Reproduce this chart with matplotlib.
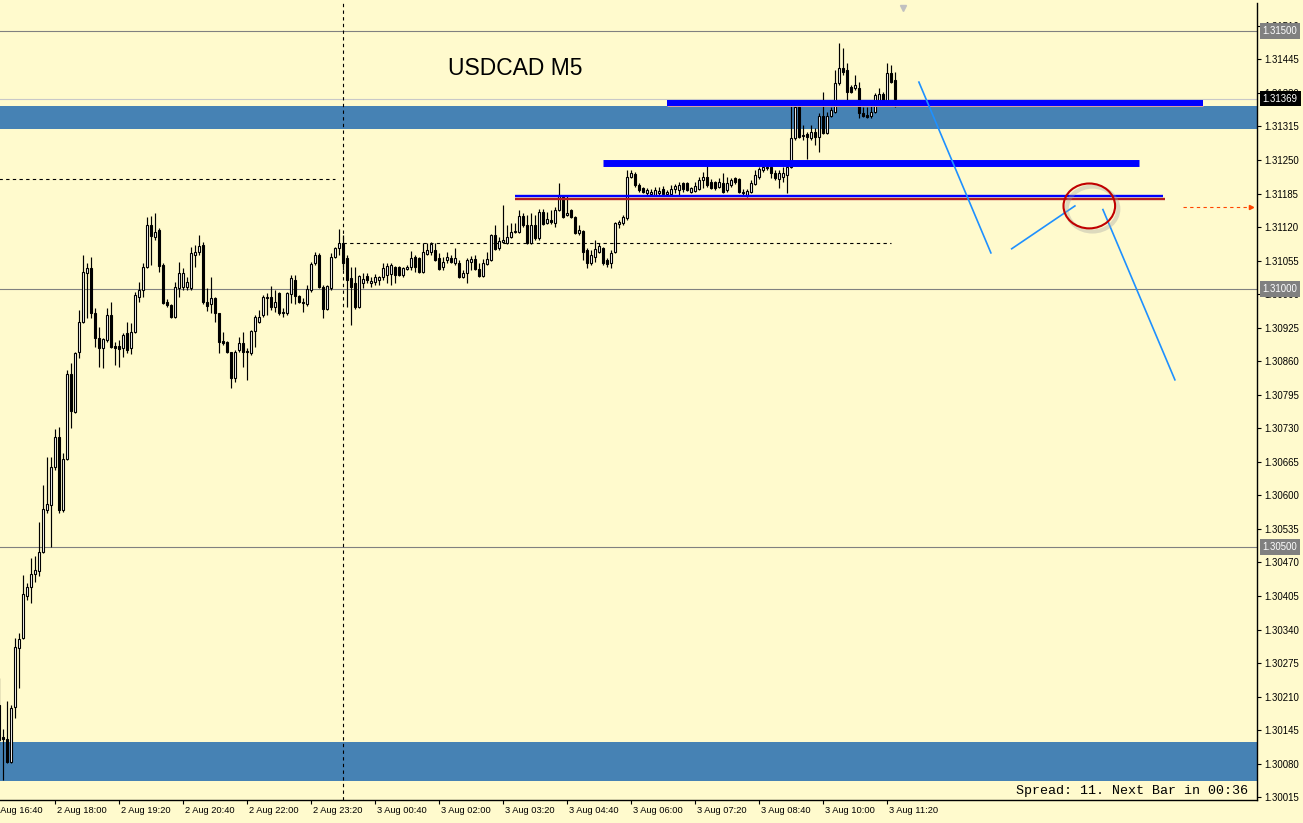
import numpy as np
import pandas as pd
import matplotlib
matplotlib.use("Agg")
import matplotlib.pyplot as plt
import matplotlib.transforms as mtransforms
from matplotlib.patches import Ellipse

# USDCAD M5 bars, 2 Aug 16:50 -> 3 Aug 11:30
times = pd.date_range("2018-08-02 16:50", periods=225, freq="5min")

opens = [
    1.30194, 1.30132, 1.30128, 1.30083, 1.30190, 1.30304, 1.30324, 1.30405, 1.30422, 1.30448,
    1.30453, 1.30490, 1.30572, 1.30581, 1.30655, 1.30713, 1.30572, 1.30671, 1.30835, 1.30762,
    1.30878, 1.30936, 1.31031, 1.31041, 1.30953, 1.30905, 1.30886, 1.30901, 1.30950, 1.30890,
    1.30890, 1.30886, 1.30915, 1.30886, 1.30917, 1.30984, 1.30998, 1.31043, 1.31124, 1.31101,
    1.31114, 1.31047, 1.30975, 1.30969, 1.30946, 1.31002, 1.31004, 1.31004, 1.31002, 1.31066,
    1.31072, 1.31085, 1.30975, 1.30971, 1.30983, 1.30953, 1.30899, 1.30897, 1.30878, 1.30828,
    1.30882, 1.30895, 1.30880, 1.30876, 1.30919, 1.30936, 1.30950, 1.30983, 1.30984, 1.30965,
    1.30992, 1.30955, 1.30953, 1.30990, 1.31017, 1.30986, 1.30975, 1.30971, 1.30998, 1.31050,
    1.31066, 1.31004, 1.30961, 1.31002, 1.31062, 1.31079, 1.31089, 1.31060, 1.31021, 1.31012,
    1.30965, 1.31012, 1.31025, 1.31012, 1.31014, 1.31017, 1.31023, 1.31027, 1.31029, 1.31043,
    1.31043, 1.31027, 1.31039, 1.31043, 1.31062, 1.31060, 1.31033, 1.31068, 1.31072, 1.31076,
    1.31060, 1.31043, 1.31056, 1.31060, 1.31050, 1.31050, 1.31023, 1.31031, 1.31052, 1.31058,
    1.31039, 1.31025, 1.31048, 1.31056, 1.31105, 1.31079, 1.31091, 1.31089, 1.31101, 1.31110,
    1.31110, 1.31141, 1.31124, 1.31089, 1.31124, 1.31099, 1.31149, 1.31128, 1.31134, 1.31128,
    1.31153, 1.31178, 1.31143, 1.31153, 1.31140, 1.31109, 1.31112, 1.31076, 1.31050, 1.31062,
    1.31072, 1.31079, 1.31056, 1.31050, 1.31072, 1.31126, 1.31128, 1.31138, 1.31217, 1.31223,
    1.31202, 1.31196, 1.31186, 1.31184, 1.31182, 1.31186, 1.31194, 1.31184, 1.31184, 1.31194,
    1.31192, 1.31205, 1.31205, 1.31188, 1.31190, 1.31194, 1.31211, 1.31217, 1.31207, 1.31207,
    1.31198, 1.31205, 1.31192, 1.31202, 1.31215, 1.31213, 1.31186, 1.31182, 1.31188, 1.31203,
    1.31217, 1.31231, 1.31234, 1.31236, 1.31225, 1.31213, 1.31217, 1.31221, 1.31236, 1.31293,
    1.31353, 1.31298, 1.31300, 1.31293, 1.31304, 1.31295, 1.31335, 1.31302, 1.31335, 1.31343,
    1.31399, 1.31428, 1.31424, 1.31392, 1.31390, 1.31390, 1.31341, 1.31337, 1.31335, 1.31343,
    1.31366, 1.31378, 1.31360, 1.31419, 1.31405,
]
highs = [
    1.30246, 1.30147, 1.30202, 1.30194, 1.30324, 1.30333, 1.30446, 1.30430, 1.30479, 1.30483,
    1.30548, 1.30620, 1.30674, 1.30674, 1.30729, 1.30733, 1.30682, 1.30843, 1.30857, 1.30878,
    1.30959, 1.31066, 1.31050, 1.31062, 1.30963, 1.30926, 1.30905, 1.30963, 1.30975, 1.30897,
    1.30901, 1.30915, 1.30936, 1.30934, 1.30994, 1.31014, 1.31050, 1.31140, 1.31141, 1.31147,
    1.31118, 1.31050, 1.30981, 1.30971, 1.31014, 1.31052, 1.31041, 1.31023, 1.31081, 1.31085,
    1.31105, 1.31091, 1.31002, 1.31023, 1.30984, 1.30953, 1.30917, 1.30899, 1.30878, 1.30882,
    1.30907, 1.30917, 1.30886, 1.30921, 1.30950, 1.30959, 1.30988, 1.30992, 1.31006, 1.30998,
    1.30994, 1.30963, 1.30994, 1.31027, 1.31027, 1.30988, 1.30983, 1.31008, 1.31052, 1.31072,
    1.31070, 1.31008, 1.31008, 1.31070, 1.31081, 1.31116, 1.31105, 1.31066, 1.31043, 1.31043,
    1.31027, 1.31031, 1.31031, 1.31023, 1.31029, 1.31025, 1.31050, 1.31050, 1.31050, 1.31045,
    1.31045, 1.31043, 1.31047, 1.31074, 1.31066, 1.31062, 1.31089, 1.31089, 1.31091, 1.31089,
    1.31070, 1.31062, 1.31072, 1.31066, 1.31079, 1.31056, 1.31037, 1.31060, 1.31064, 1.31066,
    1.31050, 1.31058, 1.31072, 1.31107, 1.31124, 1.31101, 1.31163, 1.31124, 1.31128, 1.31128,
    1.31153, 1.31147, 1.31143, 1.31147, 1.31143, 1.31155, 1.31155, 1.31149, 1.31153, 1.31159,
    1.31205, 1.31182, 1.31182, 1.31155, 1.31141, 1.31124, 1.31114, 1.31079, 1.31076, 1.31095,
    1.31089, 1.31081, 1.31060, 1.31076, 1.31130, 1.31134, 1.31143, 1.31231, 1.31231, 1.31227,
    1.31205, 1.31198, 1.31196, 1.31194, 1.31198, 1.31198, 1.31200, 1.31192, 1.31202, 1.31203,
    1.31207, 1.31207, 1.31207, 1.31198, 1.31207, 1.31217, 1.31227, 1.31244, 1.31213, 1.31209,
    1.31215, 1.31225, 1.31217, 1.31215, 1.31217, 1.31215, 1.31194, 1.31194, 1.31211, 1.31231,
    1.31236, 1.31240, 1.31240, 1.31240, 1.31231, 1.31231, 1.31236, 1.31240, 1.31360, 1.31362,
    1.31362, 1.31318, 1.31304, 1.31318, 1.31312, 1.31341, 1.31382, 1.31343, 1.31353, 1.31424,
    1.31477, 1.31467, 1.31438, 1.31395, 1.31415, 1.31401, 1.31353, 1.31353, 1.31362, 1.31380,
    1.31390, 1.31382, 1.31438, 1.31434, 1.31421,
]
lows = [
    1.30116, 1.30048, 1.30081, 1.30081, 1.30169, 1.30227, 1.30322, 1.30397, 1.30391, 1.30432,
    1.30444, 1.30488, 1.30566, 1.30500, 1.30649, 1.30566, 1.30568, 1.30669, 1.30731, 1.30760,
    1.30866, 1.30934, 1.30944, 1.30944, 1.30888, 1.30849, 1.30847, 1.30897, 1.30886, 1.30853,
    1.30849, 1.30868, 1.30876, 1.30874, 1.30915, 1.30975, 1.30984, 1.31041, 1.31047, 1.31095,
    1.31033, 1.30971, 1.30965, 1.30944, 1.30944, 1.30984, 1.30998, 1.30998, 1.30998, 1.31043,
    1.31066, 1.30971, 1.30957, 1.30953, 1.30936, 1.30876, 1.30891, 1.30876, 1.30808, 1.30820,
    1.30878, 1.30849, 1.30824, 1.30872, 1.30888, 1.30934, 1.30946, 1.30950, 1.30959, 1.30955,
    1.30950, 1.30946, 1.30950, 1.30973, 1.30971, 1.30973, 1.30955, 1.30967, 1.30994, 1.31047,
    1.31002, 1.30944, 1.30959, 1.30998, 1.31060, 1.31066, 1.31037, 1.30965, 1.30930, 1.30961,
    1.30963, 1.31002, 1.31012, 1.31004, 1.31008, 1.31008, 1.31017, 1.31012, 1.31008, 1.31012,
    1.31025, 1.31023, 1.31037, 1.31037, 1.31033, 1.31031, 1.31031, 1.31066, 1.31066, 1.31054,
    1.31037, 1.31037, 1.31050, 1.31050, 1.31047, 1.31021, 1.31021, 1.31012, 1.31037, 1.31037,
    1.31023, 1.31023, 1.31047, 1.31054, 1.31076, 1.31076, 1.31089, 1.31087, 1.31099, 1.31109,
    1.31109, 1.31120, 1.31087, 1.31087, 1.31095, 1.31095, 1.31124, 1.31126, 1.31126, 1.31120,
    1.31151, 1.31138, 1.31141, 1.31138, 1.31107, 1.31105, 1.31056, 1.31041, 1.31047, 1.31052,
    1.31070, 1.31047, 1.31043, 1.31041, 1.31070, 1.31118, 1.31124, 1.31134, 1.31215, 1.31198,
    1.31188, 1.31186, 1.31182, 1.31180, 1.31180, 1.31182, 1.31182, 1.31180, 1.31182, 1.31186,
    1.31182, 1.31188, 1.31190, 1.31186, 1.31188, 1.31192, 1.31196, 1.31198, 1.31194, 1.31192,
    1.31196, 1.31186, 1.31188, 1.31198, 1.31203, 1.31186, 1.31182, 1.31178, 1.31186, 1.31202,
    1.31213, 1.31227, 1.31231, 1.31215, 1.31211, 1.31196, 1.31207, 1.31186, 1.31234, 1.31289,
    1.31293, 1.31289, 1.31252, 1.31289, 1.31279, 1.31265, 1.31300, 1.31300, 1.31333, 1.31341,
    1.31395, 1.31415, 1.31366, 1.31380, 1.31386, 1.31331, 1.31333, 1.31331, 1.31331, 1.31341,
    1.31362, 1.31359, 1.31357, 1.31399, 1.31353,
]
closes = [
    1.30126, 1.30128, 1.30083, 1.30188, 1.30306, 1.30322, 1.30409, 1.30422, 1.30448, 1.30455,
    1.30490, 1.30574, 1.30583, 1.30655, 1.30713, 1.30572, 1.30671, 1.30835, 1.30764, 1.30876,
    1.30936, 1.31033, 1.31041, 1.30953, 1.30905, 1.30886, 1.30903, 1.30950, 1.30888, 1.30886,
    1.30884, 1.30911, 1.30882, 1.30917, 1.30988, 1.30998, 1.31043, 1.31124, 1.31103, 1.31110,
    1.31045, 1.30973, 1.30969, 1.30946, 1.31004, 1.31031, 1.31031, 1.31014, 1.31070, 1.31072,
    1.31083, 1.30975, 1.30967, 1.30983, 1.30953, 1.30897, 1.30895, 1.30878, 1.30828, 1.30878,
    1.30895, 1.30878, 1.30878, 1.30919, 1.30946, 1.30946, 1.30984, 1.30984, 1.30965, 1.30975,
    1.30953, 1.30953, 1.30992, 1.31021, 1.30986, 1.30975, 1.30973, 1.31000, 1.31048, 1.31066,
    1.31004, 1.30961, 1.31006, 1.31062, 1.31079, 1.31089, 1.31050, 1.31017, 1.31004, 1.30965,
    1.31025, 1.31019, 1.31017, 1.31016, 1.31023, 1.31023, 1.31041, 1.31045, 1.31047, 1.31027,
    1.31027, 1.31041, 1.31043, 1.31060, 1.31043, 1.31033, 1.31072, 1.31076, 1.31087, 1.31056,
    1.31039, 1.31052, 1.31062, 1.31052, 1.31060, 1.31023, 1.31031, 1.31056, 1.31058, 1.31039,
    1.31025, 1.31050, 1.31058, 1.31105, 1.31078, 1.31093, 1.31095, 1.31101, 1.31110, 1.31112,
    1.31141, 1.31124, 1.31089, 1.31124, 1.31099, 1.31149, 1.31126, 1.31136, 1.31130, 1.31153,
    1.31182, 1.31140, 1.31147, 1.31140, 1.31109, 1.31114, 1.31072, 1.31050, 1.31066, 1.31078,
    1.31083, 1.31050, 1.31048, 1.31070, 1.31128, 1.31130, 1.31140, 1.31217, 1.31225, 1.31202,
    1.31192, 1.31188, 1.31192, 1.31188, 1.31192, 1.31190, 1.31184, 1.31188, 1.31194, 1.31200,
    1.31202, 1.31194, 1.31192, 1.31196, 1.31200, 1.31211, 1.31217, 1.31202, 1.31196, 1.31196,
    1.31207, 1.31188, 1.31205, 1.31211, 1.31207, 1.31188, 1.31188, 1.31190, 1.31205, 1.31221,
    1.31233, 1.31236, 1.31236, 1.31225, 1.31215, 1.31225, 1.31225, 1.31236, 1.31293, 1.31353,
    1.31295, 1.31296, 1.31295, 1.31304, 1.31295, 1.31335, 1.31302, 1.31335, 1.31347, 1.31399,
    1.31428, 1.31421, 1.31382, 1.31382, 1.31395, 1.31341, 1.31335, 1.31333, 1.31343, 1.31376,
    1.31378, 1.31360, 1.31419, 1.31401, 1.31369,
]

# time axis labels
tick_times = ["2018-08-02 16:40", "2018-08-02 18:00", "2018-08-02 19:20", "2018-08-02 20:40",
              "2018-08-02 22:00", "2018-08-02 23:20", "2018-08-03 00:40", "2018-08-03 02:00",
              "2018-08-03 03:20", "2018-08-03 04:40", "2018-08-03 06:00", "2018-08-03 07:20",
              "2018-08-03 08:40", "2018-08-03 10:00", "2018-08-03 11:20"]
tick_labels = ["2 Aug 16:40", "2 Aug 18:00", "2 Aug 19:20", "2 Aug 20:40", "2 Aug 22:00",
               "2 Aug 23:20", "3 Aug 00:40", "3 Aug 02:00", "3 Aug 03:20", "3 Aug 04:40",
               "3 Aug 06:00", "3 Aug 07:20", "3 Aug 08:40", "3 Aug 10:00", "3 Aug 11:20"]

# price scale labels
price_ticks = [1.31510, 1.31445, 1.31380, 1.31315, 1.31250, 1.31185, 1.31120, 1.31055,
               1.30990, 1.30925, 1.30860, 1.30795, 1.30730, 1.30665, 1.30600, 1.30535,
               1.30470, 1.30405, 1.30340, 1.30275, 1.30210, 1.30145, 1.30080, 1.30015]
round_levels = [1.31500, 1.31000, 1.30500]
bid = 1.31369

# drawn objects (bar index, price)
zones = [(1.31310, 1.31355), (1.30047, 1.30122)]
thick_lines = [(167, 301, 1.31360, 4.3), (151, 285, 1.31245, 5.0), (129, 291, 1.31180, 1.7)]
red_line = (129, 291.3, 1.31175)
dashed_levels = [(-5, 84, 1.31213), (86, 223, 1.31089)]
trend_lines = [((229.9, 1.31401), (247.9, 1.31070)),
               ((253.1, 1.31078), (268.9, 1.31161)),
               ((275.9, 1.31154), (293.9, 1.30824))]
circle = (272.5, 1.31161, 12.9, 0.00087)

bg = "#FFFACD"
fig = plt.figure(figsize=(13.03, 8.23), dpi=100, facecolor=bg)
ax = fig.add_axes([0, 23 / 823, 1257 / 1303, 797 / 823])
ax.set_facecolor(bg)

x = np.arange(len(times))
o = np.array(opens)
h = np.array(highs)
l = np.array(lows)
c = np.array(closes)
up = c >= o

# background zones and level lines
for lo, hi in zones:
    ax.axhspan(lo, hi, color="#4682B4", lw=0, zorder=0.5)
for lv in round_levels:
    ax.axhline(lv, color="#808080", lw=0.8, zorder=1)
ax.axhline(bid, color="#C8C8C8", lw=0.8, zorder=1)

for x0, x1, lv in dashed_levels:
    ax.hlines(lv, x0, x1, colors="black", linestyles=(0, (3, 3)), lw=0.8, zorder=1.2)
day_start = (pd.Timestamp("2018-08-03 00:00") - times[0]) / pd.Timedelta("5min")
ax.axvline(day_start, color="black", ls=(0, (3, 3)), lw=0.8, zorder=1.2)

# candles
ax.vlines(x, l, h, color="black", lw=0.85, zorder=2)
ax.bar(x[up], c[up] - o[up], bottom=o[up], width=0.55, color="white",
       edgecolor="black", lw=0.8, zorder=2.5)
ax.bar(x[~up], c[~up] - o[~up], bottom=o[~up], width=0.55, color="black",
       edgecolor="black", lw=0.8, zorder=2.5)

# horizontal lines
for x0, x1, lv, w in thick_lines:
    ax.hlines(lv, x0, x1, colors="#0000FF", lw=w, zorder=3, capstyle="butt")
ax.hlines(red_line[2], red_line[0], red_line[1], colors="#B41E1E", lw=1.7, zorder=2.9,
          capstyle="butt")
ax.hlines(1.31355, 167, 301, colors="#E0A0A0", lw=0.7, zorder=2.8)

# trend lines
for (xa, ya), (xb, yb) in trend_lines:
    ax.plot([xa, xb], [ya, yb], color="#1E90FF", lw=1.2, zorder=3)

cx, cy, cw, chh = circle
ax.add_patch(Ellipse((cx + 0.8, cy - 0.00006), cw, chh, fill=False, ec="#A0A0A0",
                     lw=3, alpha=0.35, zorder=3.4))
ax.add_patch(Ellipse((cx, cy), cw, chh, fill=False, ec="#C00000", lw=1.5, zorder=3.5))

# orange price arrow
ax.hlines(1.31159, 295.9, 312.8, colors="#FF4500", linestyles=(0, (3, 3)), lw=0.8, zorder=3)
ax.plot([313.0], [1.31159], marker=">", color="#FF4500", ms=3, zorder=3, clip_on=False)

ax.set_xlim(0.175, 314.425)
ax.set_ylim(1.300097, 1.315543)

for side in ["top", "left"]:
    ax.spines[side].set_visible(False)
for side in ["right", "bottom"]:
    ax.spines[side].set_color("black")
    ax.spines[side].set_linewidth(1)

# price axis
ax.yaxis.tick_right()
ax.set_yticks(price_ticks)
ax.set_yticklabels([f"{v:.5f}" for v in price_ticks], fontfamily="Liberation Sans")
ax.tick_params(axis="y", labelsize=6.9, length=3, width=0.8, pad=2.5, colors="black")

ytrans = ax.get_yaxis_transform()
for lv in round_levels:
    ax.text(1.0045, lv, f"{lv:.5f}", transform=ytrans, ha="left", va="center",
            fontsize=6.9, fontfamily="Liberation Sans", color="white", clip_on=False,
            zorder=10, bbox=dict(boxstyle="square,pad=0.3", fc="#808080", ec="none"))
ax.text(1.0045, bid, f"{bid:.5f}", transform=ytrans, ha="left", va="center",
        fontsize=6.9, fontfamily="Liberation Sans", color="white", clip_on=False,
        zorder=10, bbox=dict(boxstyle="square,pad=0.3", fc="black", ec="none"))

# time axis
tick_pos = [(pd.Timestamp(t) - times[0]) / pd.Timedelta("5min") for t in tick_times]
ax.set_xticks([p for p in tick_pos if p > 0.175])
ax.set_xticklabels([])
ax.tick_params(axis="x", length=3, width=0.8, colors="black")
xtrans = mtransforms.blended_transform_factory(ax.transData, ax.transAxes)
for p, lbl in zip(tick_pos, tick_labels):
    ax.text(p + 0.4, -0.0138, lbl, transform=xtrans, ha="left", va="center",
            fontsize=6.7, fontfamily="Liberation Sans", clip_on=False)

# chart shift marker
ax.plot([225.9], [0.994], marker="v", color="#C0C0C0", ms=5, transform=xtrans,
        clip_on=False)

ax.text(0.3564, 0.9184, "USDCAD M5", transform=ax.transAxes, ha="left", va="center",
        fontsize=16.5, fontfamily="Liberation Sans")
ax.text(0.9928, 0.0113, "Spread: 11. Next Bar in 00:36", transform=ax.transAxes,
        ha="right", va="center", fontsize=9.6, fontfamily="Liberation Mono")

fig.savefig("out.png", dpi=100, facecolor=bg)
